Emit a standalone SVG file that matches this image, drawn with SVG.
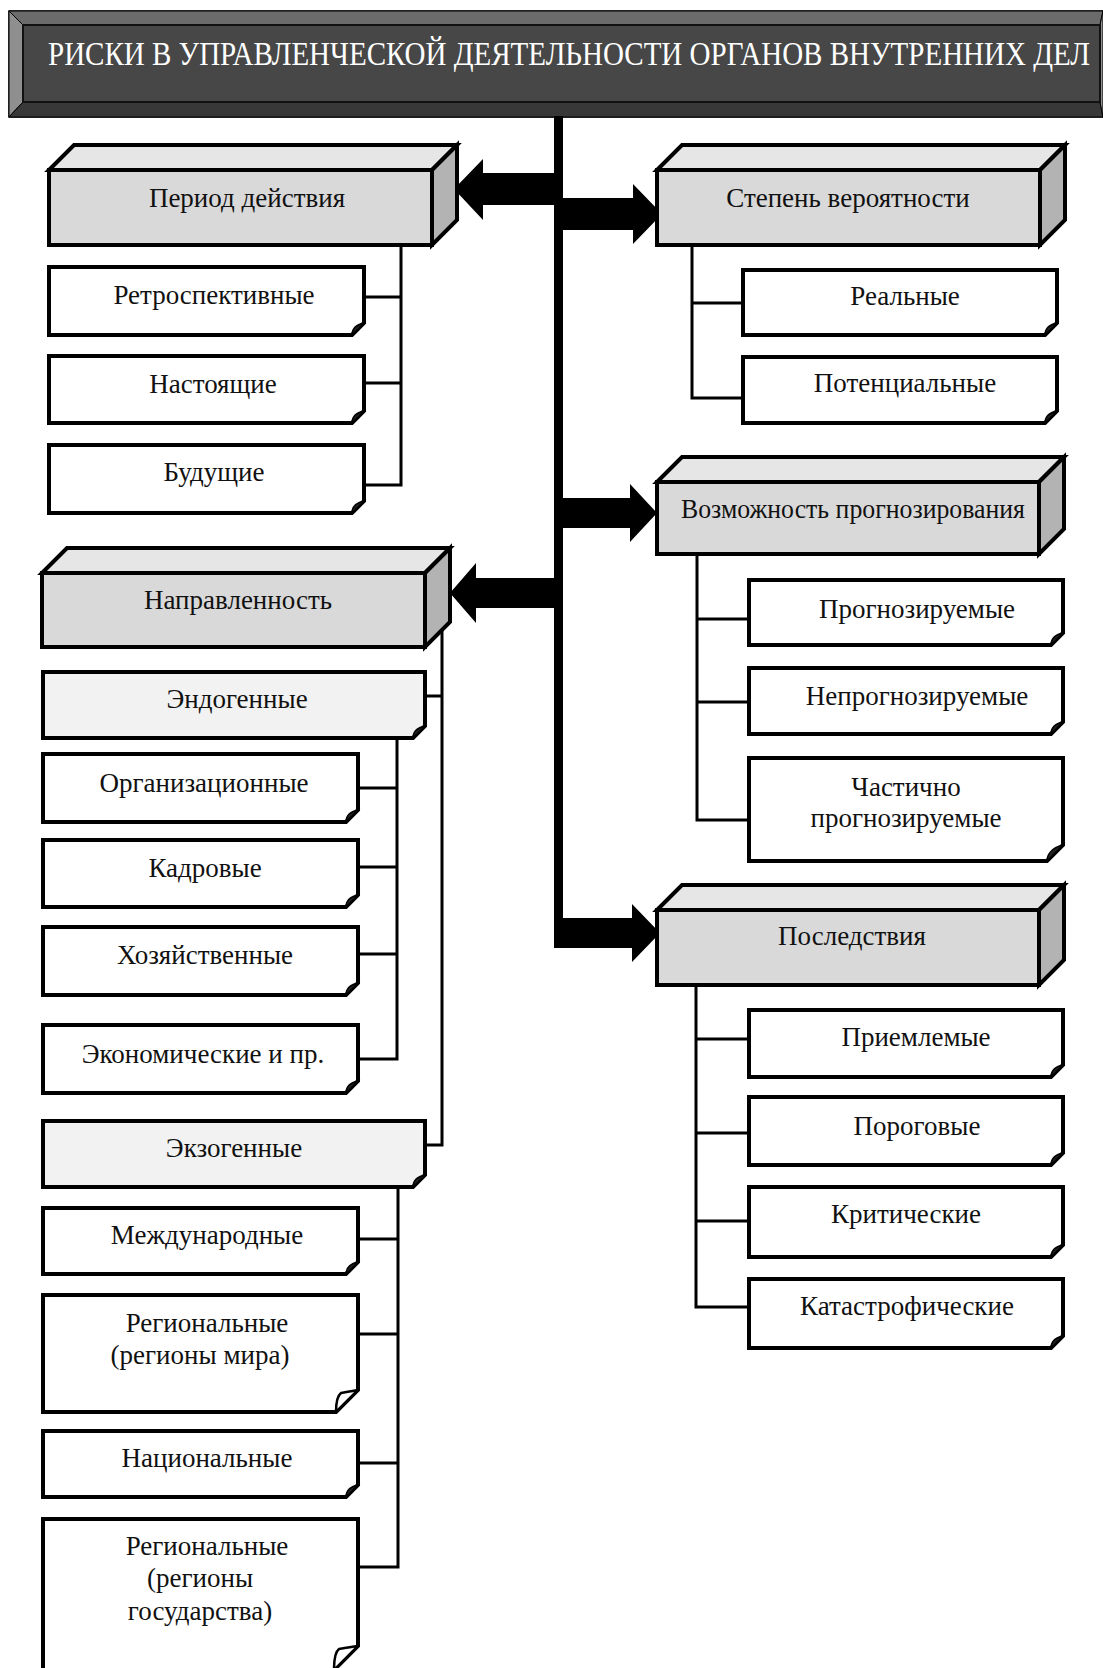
<svg xmlns="http://www.w3.org/2000/svg" width="1103" height="1668" viewBox="0 0 1103 1668">
<style>
.hf{fill:#d9d9d9;stroke:#000;stroke-width:4;stroke-linejoin:miter}
.ht{fill:#e6e6e6;stroke:#000;stroke-width:4;stroke-linejoin:miter}
.hs{fill:#b3b3b3;stroke:#000;stroke-width:4;stroke-linejoin:miter}
.box{fill:#fff;stroke:#000;stroke-width:4;stroke-linejoin:miter}
.sub{fill:#f2f2f2;stroke:#000;stroke-width:4;stroke-linejoin:miter}
.flap{fill:#222;stroke:#000;stroke-width:1.5}
.flapw{fill:#fff;stroke:#000;stroke-width:2.5;stroke-linejoin:round}
.c{fill:none;stroke:#000;stroke-width:3}
.arr{fill:#000;stroke:none}
.t{font-family:"Liberation Serif","Times New Roman",serif;font-size:27px;fill:#111;text-anchor:middle}
.tt{font-family:"Liberation Serif","Times New Roman",serif;font-size:28.5px;fill:#fff}
</style>

<g id="title">
  <rect x="9" y="11" width="1100" height="106" fill="#474747" stroke="#000" stroke-width="1.5"/>
  <polygon points="9,11 1103,11 1100,25 23,25" fill="#6b6b6b" stroke="#000" stroke-width="1"/>
  <polygon points="9,11 23,25 23,102 9,117" fill="#8f8f8f" stroke="#000" stroke-width="1"/>
  <polygon points="9,117 23,102 1100,102 1103,117" fill="#383838" stroke="#000" stroke-width="1"/>
  <polygon points="1100,25 1103,11 1103,117 1100,102" fill="#8f8f8f" stroke="#000" stroke-width="1"/>
  <rect x="23" y="25" width="1077" height="77" fill="#474747" stroke="#111" stroke-width="2"/>
  <text class="tt" transform="translate(48,65) scale(1,1.18)" x="0" y="0" textLength="1042" lengthAdjust="spacingAndGlyphs">РИСКИ В УПРАВЛЕНЧЕСКОЙ ДЕЯТЕЛЬНОСТИ ОРГАНОВ ВНУТРЕННИХ ДЕЛ</text>
</g>

<g id="connectors">
  <rect x="554" y="116" width="9" height="832" fill="#000"/>
  <polygon class="arr" points="556,173 483,173 483,159 454,189 483,220 483,205 556,205"/>
  <polygon class="arr" points="561,198 633,198 633,184 662,214 633,244 633,230 561,230"/>
  <polygon class="arr" points="556,578 476,578 476,563 450,593 476,623 476,608 556,608"/>
  <polygon class="arr" points="561,498 630,498 630,484 657,513 630,542 630,528 561,528"/>
  <polygon class="arr" points="561,918 632,918 632,904 660,933 632,962 632,948 561,948"/>
  <path class="c" d="M401,245 V485 H364 M364,297 H401 M364,383 H401"/>
  <path class="c" d="M692,245 V398 H743 M692,303 H743"/>
  <path class="c" d="M697,554 V820 H749 M697,619 H749 M697,702 H749"/>
  <path class="c" d="M696,985 V1307 H749 M696,1039 H749 M696,1133 H749 M696,1221 H749"/>
  <path class="c" d="M442,630 V1145 H425 M425,696 H442"/>
  <path class="c" d="M397,738 V1059 H358 M358,788 H397 M358,867 H397 M358,954 H397"/>
  <path class="c" d="M398,1187 V1567 H358 M358,1239 H398 M358,1334 H398 M358,1463 H398"/>
</g>

<g id="period">
  <polygon class="ht" points="49,170 74,145 457,145 432,170"/>
  <polygon class="hs" points="432,170 457,145 457,220 432,245"/>
  <rect class="hf" x="49" y="170" width="383" height="75"/>
  <text class="t" x="247" y="207">Период действия</text>
</g>
<g id="retro">
  <path class="box" d="M49,267 H364 V323 L352,335 H49 Z"/>
  <path class="flap" d="M364,323 L352,335 C352,330 355,325 364,323 Z"/>
  <text class="t" x="214" y="304">Ретроспективные</text>
</g>
<g id="present">
  <path class="box" d="M49,356 H364 V411 L352,423 H49 Z"/>
  <path class="flap" d="M364,411 L352,423 C352,418 355,413 364,411 Z"/>
  <text class="t" x="213" y="393">Настоящие</text>
</g>
<g id="future">
  <path class="box" d="M49,445 H364 V501 L352,513 H49 Z"/>
  <path class="flap" d="M364,501 L352,513 C352,508 355,503 364,501 Z"/>
  <text class="t" x="214" y="481">Будущие</text>
</g>

<g id="degree">
  <polygon class="ht" points="657,170 682,145 1065,145 1040,170"/>
  <polygon class="hs" points="1040,170 1065,145 1065,220 1040,245"/>
  <rect class="hf" x="657" y="170" width="383" height="75"/>
  <text class="t" x="848" y="207">Степень вероятности</text>
</g>
<g id="real">
  <path class="box" d="M743,270 H1057 V323 L1045,335 H743 Z"/>
  <path class="flap" d="M1057,323 L1045,335 C1045,330 1048,325 1057,323 Z"/>
  <text class="t" x="905" y="305">Реальные</text>
</g>
<g id="potential">
  <path class="box" d="M743,357 H1057 V411 L1045,423 H743 Z"/>
  <path class="flap" d="M1057,411 L1045,423 C1045,418 1048,413 1057,411 Z"/>
  <text class="t" x="905" y="392">Потенциальные</text>
</g>

<g id="forecast">
  <polygon class="ht" points="657,482 682,457 1064,457 1039,482"/>
  <polygon class="hs" points="1039,482 1064,457 1064,529 1039,554"/>
  <rect class="hf" x="657" y="482" width="382" height="72"/>
  <text class="t" x="853" y="518" textLength="344" lengthAdjust="spacingAndGlyphs">Возможность прогнозирования</text>
</g>
<g id="predictable">
  <path class="box" d="M749,580 H1063 V633 L1051,645 H749 Z"/>
  <path class="flap" d="M1063,633 L1051,645 C1051,640 1054,635 1063,633 Z"/>
  <text class="t" x="917" y="618">Прогнозируемые</text>
</g>
<g id="unpredictable">
  <path class="box" d="M749,668 H1063 V722 L1051,734 H749 Z"/>
  <path class="flap" d="M1063,722 L1051,734 C1051,729 1054,724 1063,722 Z"/>
  <text class="t" x="917" y="705">Непрогнозируемые</text>
</g>
<g id="partial">
  <path class="box" d="M749,758 H1063 V845 L1047,861 H749 Z"/>
  <path class="flap" d="M1063,845 L1047,861 C1047,855 1051,848 1063,845 Z"/>
  <text class="t" x="906" y="796">Частично</text>
  <text class="t" x="906" y="827">прогнозируемые</text>
</g>

<g id="consequences">
  <polygon class="ht" points="657,910 682,885 1064,885 1039,910"/>
  <polygon class="hs" points="1039,910 1064,885 1064,960 1039,985"/>
  <rect class="hf" x="657" y="910" width="382" height="75"/>
  <text class="t" x="852" y="945">Последствия</text>
</g>
<g id="acceptable">
  <path class="box" d="M749,1010 H1063 V1065 L1051,1077 H749 Z"/>
  <path class="flap" d="M1063,1065 L1051,1077 C1051,1072 1054,1067 1063,1065 Z"/>
  <text class="t" x="916" y="1046">Приемлемые</text>
</g>
<g id="threshold">
  <path class="box" d="M749,1097 H1063 V1153 L1051,1165 H749 Z"/>
  <path class="flap" d="M1063,1153 L1051,1165 C1051,1160 1054,1155 1063,1153 Z"/>
  <text class="t" x="917" y="1135">Пороговые</text>
</g>
<g id="critical">
  <path class="box" d="M749,1187 H1063 V1245 L1051,1257 H749 Z"/>
  <path class="flap" d="M1063,1245 L1051,1257 C1051,1252 1054,1247 1063,1245 Z"/>
  <text class="t" x="906" y="1223">Критические</text>
</g>
<g id="catastrophic">
  <path class="box" d="M749,1279 H1063 V1336 L1051,1348 H749 Z"/>
  <path class="flap" d="M1063,1336 L1051,1348 C1051,1343 1054,1338 1063,1336 Z"/>
  <text class="t" x="907" y="1315">Катастрофические</text>
</g>

<g id="direction">
  <polygon class="ht" points="42,573 67,548 450,548 425,573"/>
  <polygon class="hs" points="425,573 450,548 450,622 425,647"/>
  <rect class="hf" x="42" y="573" width="383" height="74"/>
  <text class="t" x="238" y="609">Направленность</text>
</g>
<g id="endogenous">
  <path class="sub" d="M43,672 H425 V726 L413,738 H43 Z"/>
  <path class="flap" d="M425,726 L413,738 C413,733 416,728 425,726 Z"/>
  <text class="t" x="237" y="708">Эндогенные</text>
</g>
<g id="organizational">
  <path class="box" d="M43,754 H358 V810 L346,822 H43 Z"/>
  <path class="flap" d="M358,810 L346,822 C346,817 349,812 358,810 Z"/>
  <text class="t" x="204" y="792">Организационные</text>
</g>
<g id="personnel">
  <path class="box" d="M43,840 H358 V895 L346,907 H43 Z"/>
  <path class="flap" d="M358,895 L346,907 C346,902 349,897 358,895 Z"/>
  <text class="t" x="205" y="877">Кадровые</text>
</g>
<g id="economic-household">
  <path class="box" d="M43,927 H358 V983 L346,995 H43 Z"/>
  <path class="flap" d="M358,983 L346,995 C346,990 349,985 358,983 Z"/>
  <text class="t" x="205" y="964">Хозяйственные</text>
</g>
<g id="economic">
  <path class="box" d="M43,1025 H358 V1081 L346,1093 H43 Z"/>
  <path class="flap" d="M358,1081 L346,1093 C346,1088 349,1083 358,1081 Z"/>
  <text class="t" x="203" y="1063">Экономические и пр.</text>
</g>
<g id="exogenous">
  <path class="sub" d="M43,1121 H425 V1175 L413,1187 H43 Z"/>
  <path class="flap" d="M425,1175 L413,1187 C413,1182 416,1177 425,1175 Z"/>
  <text class="t" x="234" y="1157">Экзогенные</text>
</g>
<g id="international">
  <path class="box" d="M43,1208 H358 V1262 L346,1274 H43 Z"/>
  <path class="flap" d="M358,1262 L346,1274 C346,1269 349,1264 358,1262 Z"/>
  <text class="t" x="207" y="1244">Международные</text>
</g>
<g id="regional-world">
  <path class="box" d="M43,1295 H358 V1390 L336,1412 H43 Z"/>
  <path class="flapw" d="M358,1390 L336,1412 C336,1404 337,1396 341,1393 C346,1392 352,1391 358,1390 Z"/>
  <text class="t" x="207" y="1332">Региональные</text>
  <text class="t" x="200" y="1364">(регионы мира)</text>
</g>
<g id="national">
  <path class="box" d="M43,1431 H358 V1485 L346,1497 H43 Z"/>
  <path class="flap" d="M358,1485 L346,1497 C346,1492 349,1487 358,1485 Z"/>
  <text class="t" x="207" y="1467">Национальные</text>
</g>
<g id="regional-state">
  <path class="box" d="M43,1519 H358 V1646 L334,1670 H43 Z"/>
  <path class="flapw" d="M358,1646 L334,1670 C334,1661 335,1652 339,1649 C345,1648 351,1647 358,1646 Z"/>
  <text class="t" x="207" y="1555">Региональные</text>
  <text class="t" x="200" y="1587">(регионы</text>
  <text class="t" x="200" y="1620">государства)</text>
</g>
</svg>
